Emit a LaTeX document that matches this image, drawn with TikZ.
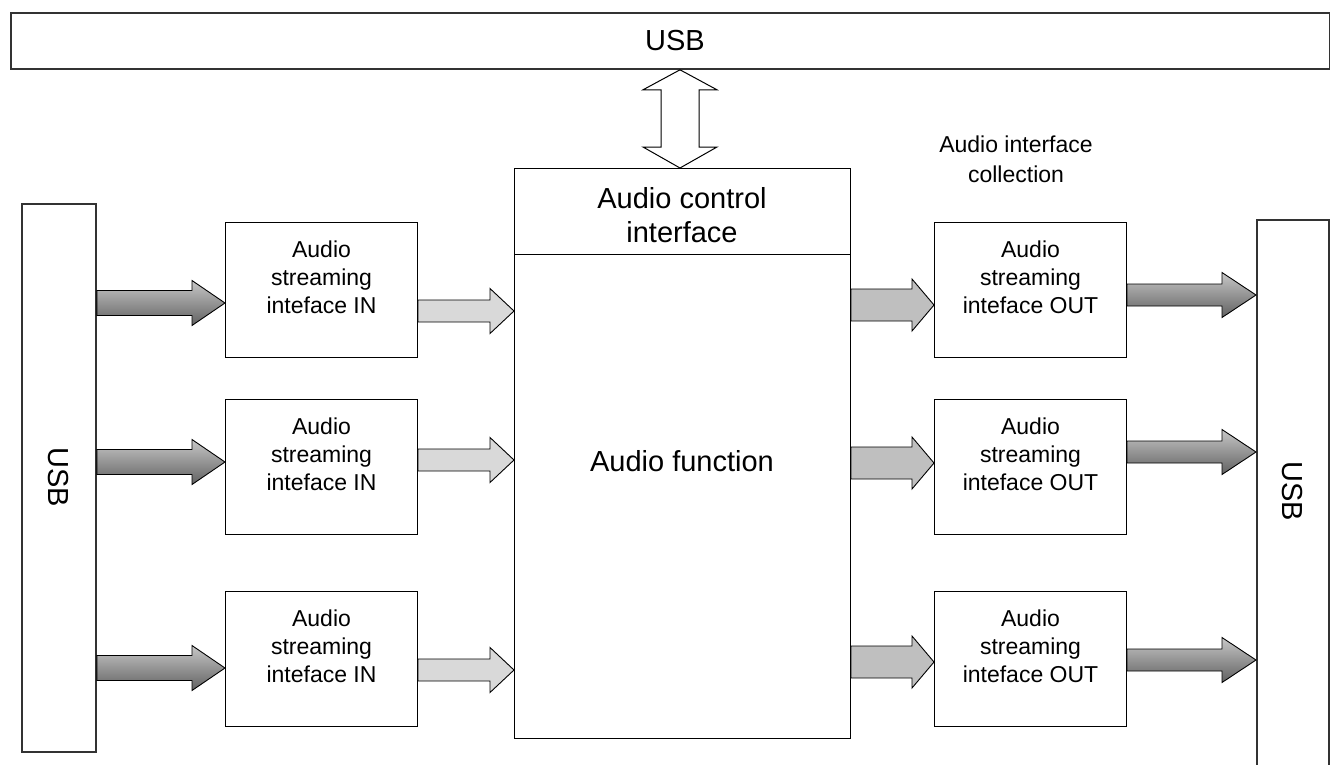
\documentclass[tikz,border=0pt]{standalone}
\usepackage{fontspec}
\setmainfont{Liberation Sans}
\usetikzlibrary{calc}
\tikzset{
  box/.style={draw, line width=1pt, inner sep=0pt, anchor=north west},
  usbbox/.style={draw=black!80, line width=1.8pt, inner sep=0pt, anchor=north west},
  smalltxt/.style={align=center, font=\fontsize{23}{28}\selectfont, inner sep=0pt},
  bigtxt/.style={align=center, font=\fontsize{29}{34}\selectfont, inner sep=0pt},
  darkarrow/.style={draw, line width=0.9pt, top color=black!22, bottom color=black!62},
  lightarrow/.style={draw, line width=0.9pt, fill=black!15},
  midarrow/.style={draw, line width=0.9pt, fill=black!25},
  dblarrow/.style={draw, line width=1pt, fill=white}
}
% style, from, to, tip y (px), shaft half width, head half width, head length
\newcommand\fatarrow[7]{%
  \path[#1] let \p1=(#2), \p2=(#3) in
    (\x1,{-#4pt+#5pt}) -- (\x2-#7pt,{-#4pt+#5pt}) -- (\x2-#7pt,{-#4pt+#6pt})
    -- (\x2,{-#4pt}) -- (\x2-#7pt,{-#4pt-#6pt}) -- (\x2-#7pt,{-#4pt-#5pt})
    -- (\x1,{-#4pt-#5pt}) -- cycle;}
\begin{document}
\begin{tikzpicture}[x=1pt,y=-1pt]
\useasboundingbox (0,0) rectangle (1330,764);
\clip (0,0) rectangle (1330,764);
% USB boxes
\node[usbbox, minimum width=1319pt, minimum height=56pt] (usbT) at (10,12) {};
\node[bigtxt] (usbTt) at (675,41) {USB};
\node[usbbox, minimum width=74pt, minimum height=548pt] (usbL) at (21,203) {};
\node[bigtxt, rotate=-90] (usbLt) at (58,477) {USB};
\node[usbbox, minimum width=72pt, minimum height=570pt] (usbR) at (1256,219) {};
\node[bigtxt, rotate=-90] (usbRt) at (1292,491) {USB};
% central boxes
\node[box, minimum width=336pt, minimum height=86pt] (ctrl) at (514,168) {};
\node[bigtxt] (ctrlt) at (682,215) {Audio control\\interface};
\node[box, minimum width=336pt, minimum height=484pt] (func) at (514,254) {};
\node[bigtxt] (funct) at (682,461) {Audio function};
% collection label
\node[smalltxt, font=\fontsize{23}{30}\selectfont] (coll) at (1016,159) {Audio interface\\collection};
% IN boxes
\foreach \i/\y in {1/222,2/399,3/591}{
  \node[box, minimum width=192pt, minimum height=135pt] (in\i) at (225,\y) {};
  \node[smalltxt] (in\i t) at ($(in\i.north)+(0,55)$) {Audio\\streaming\\inteface IN};
  \node[box, minimum width=192pt, minimum height=135pt] (out\i) at (934,\y) {};
  \node[smalltxt] (out\i t) at ($(out\i.north)+(0,55)$) {Audio\\streaming\\inteface OUT};
}
% arrows USB -> IN
\fatarrow{darkarrow}{usbL.east}{in1.west}{303}{12.5}{22.5}{33}
\fatarrow{darkarrow}{usbL.east}{in2.west}{462}{12.5}{22.5}{33}
\fatarrow{darkarrow}{usbL.east}{in3.west}{668}{12.5}{22.5}{33}
% arrows IN -> function
\fatarrow{lightarrow}{in1.east}{func.west}{311}{11}{22.5}{24}
\fatarrow{lightarrow}{in2.east}{func.west}{460}{11}{22.5}{24}
\fatarrow{lightarrow}{in3.east}{func.west}{670}{11}{22.5}{24}
% arrows function -> OUT
\fatarrow{midarrow}{func.east}{out1.west}{305}{16}{26}{22}
\fatarrow{midarrow}{func.east}{out2.west}{463}{16}{26}{22}
\fatarrow{midarrow}{func.east}{out3.west}{662}{16}{26}{22}
% arrows OUT -> USB
\fatarrow{darkarrow}{out1.east}{usbR.west}{295}{11}{22.5}{34}
\fatarrow{darkarrow}{out2.east}{usbR.west}{452}{11}{22.5}{34}
\fatarrow{darkarrow}{out3.east}{usbR.west}{660}{11}{22.5}{34}
% double arrow USB <-> control
\path[dblarrow] let \p1=(usbT.south), \p2=(ctrl.north) in
  (680pt,\y1) -- (717pt,\y1-20pt) -- (699pt,\y1-20pt) -- (699pt,\y2+21pt)
  -- (717pt,\y2+21pt) -- (680pt,\y2) -- (643pt,\y2+21pt) -- (661pt,\y2+21pt)
  -- (661pt,\y1-20pt) -- (643pt,\y1-20pt) -- cycle;
\end{tikzpicture}
\end{document}
